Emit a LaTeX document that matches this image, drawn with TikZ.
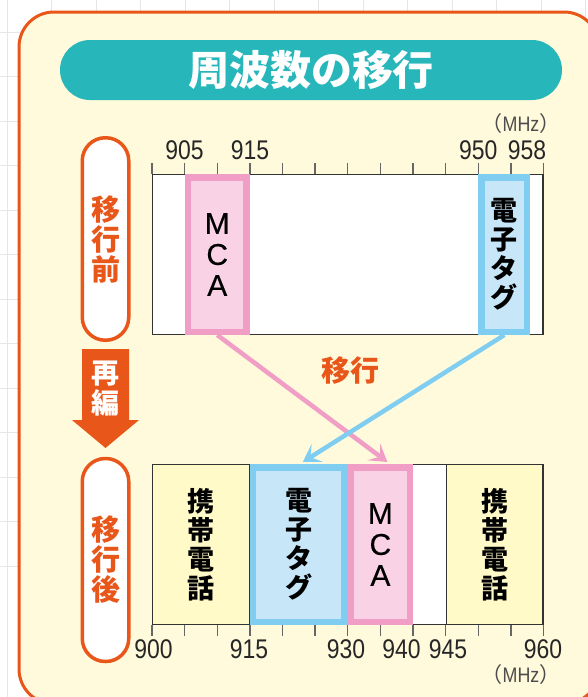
\documentclass[tikz,border=0pt]{standalone}
\usepackage{fontspec}
\setmainfont{Noto Sans CJK JP}
\newfontfamily\numfont[FakeStretch=0.85]{Liberation Sans}
\newfontfamily\latinfont[FakeBold=0.4]{Liberation Sans}
\usepackage{tikz}
\usetikzlibrary{arrows.meta}

\definecolor{orangeC}{HTML}{E8561A}
\definecolor{tealC}{HTML}{27B6BA}
\definecolor{panelC}{HTML}{FFFADC}
\definecolor{pinkL}{HTML}{F09EC5}
\definecolor{pinkF}{HTML}{F9D3E5}
\definecolor{blueL}{HTML}{7FCEF2}
\definecolor{blueF}{HTML}{C7E7F9}
\definecolor{yellowF}{HTML}{FFFAC8}
\definecolor{gridC}{HTML}{E6E6E6}
\definecolor{lineC}{HTML}{333333}

\tikzset{
	band/.style={draw, line width=6.5pt, inner sep=0pt, minimum height=154.5pt},
	mcaband/.style={band, draw=pinkL, fill=pinkF, minimum width=58.75pt},
	tagband/.style={band, draw=blueL, fill=blueF},
	phone/.style={draw=lineC, line width=1.2pt, fill=yellowF, inner sep=0pt, minimum width=96.7pt, minimum height=159.8pt},
	bar/.style={draw=lineC, line width=1.2pt, fill=white, inner sep=0pt, minimum width=390.3pt, minimum height=159.8pt},
	vjp/.style={align=center, font=\bfseries\fontsize{27}{29}\selectfont},
	vlat/.style={align=center, font=\latinfont\fontsize{30}{31}\selectfont},
	num/.style={inner sep=0pt, font=\numfont\fontsize{27}{27}\selectfont, text=black!85},
	mhz/.style={inner sep=0pt, font=\fontsize{21}{21}\selectfont, text=black!70},
	pill/.style={draw=orangeC, line width=3.5pt, fill=white, rounded corners=23pt, minimum width=46.5pt, inner sep=0pt, align=center, text=orangeC, font=\bfseries\fontsize{29}{30}\selectfont},
	shiftarrow/.style={line width=4.5pt, -{Stealth[length=17pt,width=21pt,inset=8pt]}},
	scaletick/.style={black!60, line width=1.3pt},
}

\begin{document}
\begin{tikzpicture}[x=1pt,y=-1pt]
	\useasboundingbox (0,0) rectangle (588,697);
	% background grid and panel
	\foreach \k in {0,...,13} {
		\draw[gridC, line width=0.8pt] ({7+44.5*\k},0) -- ({7+44.5*\k},697);
		\draw[gridC, line width=0.8pt] (0,{32+44.5*(\k-1)}) -- (588,{32+44.5*(\k-1)});
	}
	\draw[orangeC, line width=3pt, fill=panelC, rounded corners=35pt] (19,12) rectangle (599,704);
	\node[fill=tealC, rounded corners=30pt, minimum width=502pt, minimum height=60pt, text=white, font=\bfseries\fontsize{41}{41}\selectfont] (title) at (311,70) {周波数の移行};

	% left side
	\node[pill, minimum height=202.5pt] (before) at (105.5,239) {移\\行\\前};
	\node[pill, minimum height=203pt] (after) at (105.5,560) {移\\行\\後};
	\fill[orangeC] (82,349) -- (129,349) -- (129,420) -- (139,420) -- (105.5,448) -- (72,420) -- (82,420) -- cycle;
	\node[text=white, align=center, font=\bfseries\fontsize{28}{30}\selectfont] (regroup) at (105.5,389) {再\\編};

	% before
	\node[bar] (barA) at (347.75,254.5) {};
	\foreach \i in {0,...,12}
		\draw[scaletick] ({152+32.625*\i},163) -- ++(0,11);
	\node[mcaband, vlat] (mcaA) at (217.25,254.5) {M\\C\\A};
	\node[tagband, vjp, minimum width=45.7pt] (tagA) at (504.35,254.5) {電\\子\\タ\\グ};
	\foreach \f/\x in {905/184.6, 915/249.9, 950/478.25, 958/527}
		\node[num] (top\f) at (\x,150) {\f};
	\node[mhz] (unitA) at (521,124) {（{\numfont MHz}）};

	% after
	\node[bar] (barB) at (347.75,544.5) {};
	\foreach \i in {0,...,12}
		\draw[scaletick] ({152+32.625*\i},625) -- ++(0,11);
	\node[phone, vjp] (phoneL) at (201,544.5) {携\\帯\\電\\話};
	\node[tagband, vjp, minimum width=91.35pt] (tagB) at (298.8,544.5) {電\\子\\タ\\グ};
	\node[mcaband, vlat] (mcaB) at (380.4,544.5) {M\\C\\A};
	\node[phone, vjp] (phoneR) at (494.55,544.5) {携\\帯\\電\\話};
	\foreach \f/\x in {900/153.5, 915/249, 930/346, 940/401.5, 945/448, 960/543}
		\node[num] (bot\f) at (\x,649) {\f};
	\node[mhz] (unitB) at (521,675) {（{\numfont MHz}）};

	% moves
	\draw[shiftarrow, pinkL] (mcaA.south) -- ([xshift=7pt,yshift=2pt]mcaB.north);
	\draw[shiftarrow, blueL] (tagA.south) -- ([xshift=4pt,yshift=2pt]tagB.north);
	\node[text=orangeC, font=\bfseries\fontsize{29}{29}\selectfont] (movelbl) at (350,371) {移行};
\end{tikzpicture}
\end{document}
